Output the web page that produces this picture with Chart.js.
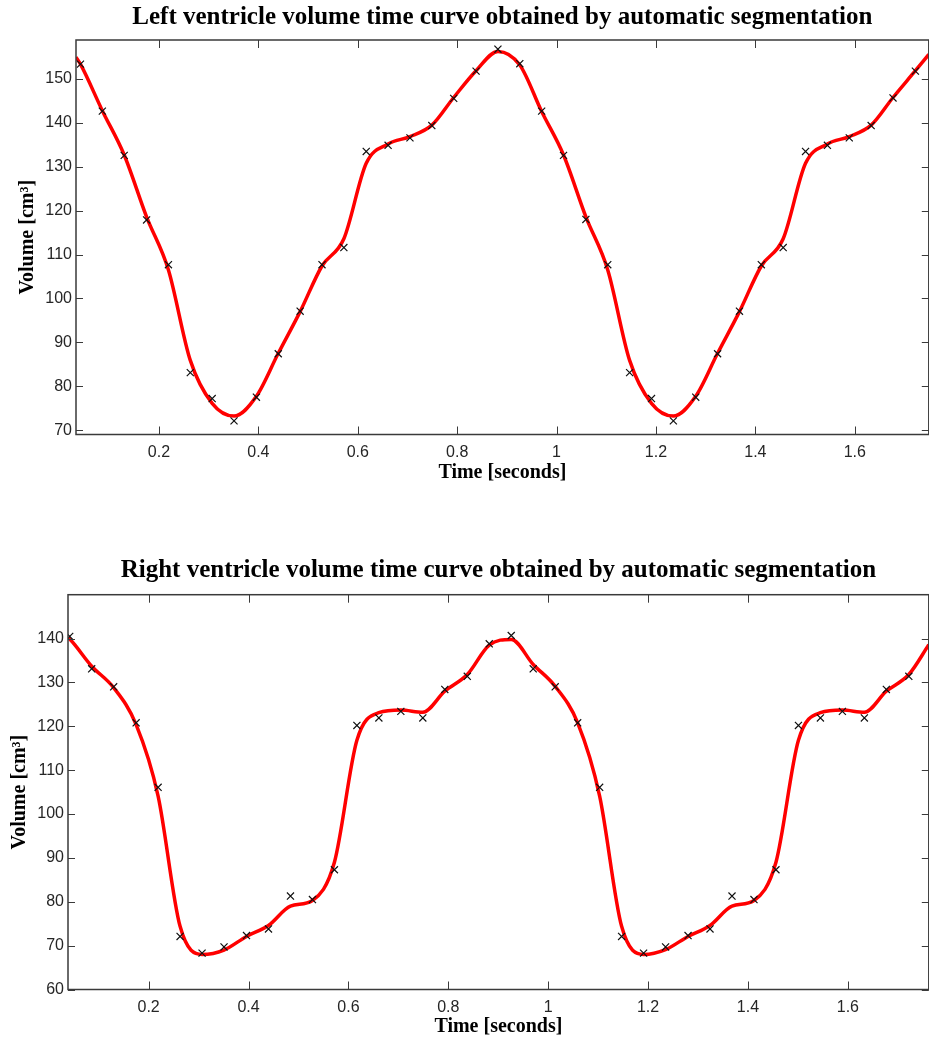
<!DOCTYPE html>
<html>
<head>
<meta charset="utf-8">
<script src="https://cdn.jsdelivr.net/npm/chart.js@4"></script>
<style>
    html, body { margin: 0; padding: 0; background: #fff; overflow: hidden; }
    .panel { position: absolute; left: 0; }
</style>
</head>
<body>
<div class="panel" style="top: 0px;"><canvas id="lvChart" width="935" height="490"></canvas></div>
<div class="panel" style="top: 550px;"><canvas id="rvChart" width="935" height="489"></canvas></div>
<script>
// frame times of the segmented volumes (seconds)
const timeSec = [
    0.042, 0.086, 0.130, 0.175, 0.219, 0.263, 0.307, 0.351, 0.396, 0.440,
    0.484, 0.528, 0.572, 0.617, 0.661, 0.705, 0.749, 0.793, 0.838, 0.882,
    0.926, 0.970, 1.014, 1.059, 1.103, 1.147, 1.191, 1.235, 1.280, 1.324,
    1.368, 1.412, 1.456, 1.501, 1.545, 1.589, 1.633, 1.677, 1.722,
];

// left ventricle: segmented volumes (x markers) and fitted curve (red)
const lvVolume = [
    153.4, 142.7, 132.6, 117.9, 107.7, 83.1, 77.2, 72.1, 77.5, 87.4,
    97.1, 107.7, 111.6, 133.5, 134.9, 136.6, 139.4, 145.6, 151.8, 156.8,
    153.5, 142.7, 132.6, 118.0, 107.7, 83.1, 77.2, 72.1, 77.5, 87.4,
    97.1, 107.7, 111.6, 133.5, 134.9, 136.6, 139.4, 145.7, 151.8,
];
const lvCurveTime = [0.033, ...timeSec, 1.749];
const lvCurve = [
    155.0,
    153.4, 142.8, 132.7, 118.6, 106.5, 85.9, 76.1, 73.2, 77.7, 87.5,
    97.0, 107.4, 113.6, 130.8, 135.2, 136.9, 139.5, 145.8, 151.9, 156.3,
    153.2, 142.6, 132.7, 118.6, 106.5, 85.9, 76.1, 73.2, 77.7, 87.5,
    97.0, 107.4, 113.6, 130.8, 135.2, 136.9, 139.5, 145.8, 151.9,
    155.6,
];

// right ventricle
const rvVolume = [
    140.5, 133.1, 129.0, 120.8, 106.1, 72.1, 68.3, 69.7, 72.3, 73.8,
    81.3, 80.5, 87.3, 120.2, 121.9, 123.4, 121.9, 128.4, 131.4, 138.8,
    140.7, 133.1, 129.0, 120.8, 106.1, 72.1, 68.3, 69.7, 72.3, 73.8,
    81.3, 80.5, 87.3, 120.2, 121.9, 123.4, 121.9, 128.4, 131.4,
];
const rvCurveTime = [0.0386, ...timeSec, 1.762];
const rvCurve = [
    140.2,
    139.9, 133.7, 128.8, 120.4, 104.1, 74.4, 68.0, 69.0, 72.1, 74.6,
    79.0, 80.3, 89.0, 116.8, 123.1, 123.7, 123.2, 128.0, 131.8, 138.5,
    139.8, 134.1, 129.1, 120.8, 104.1, 74.4, 68.0, 69.1, 72.1, 74.6,
    79.0, 80.3, 89.0, 116.8, 123.1, 123.7, 123.2, 128.0, 131.8,
    138.6,
];

const xTicks = [0.2, 0.4, 0.6, 0.8, 1, 1.2, 1.4, 1.6];
const lvYTicks = [70, 80, 90, 100, 110, 120, 130, 140, 150];
const rvYTicks = [60, 70, 80, 90, 100, 110, 120, 130, 140];

const serif = '"Liberation Serif", "Times New Roman", serif';
const sans = '"Liberation Sans", Arial, sans-serif';

// box around the plot with inward tick marks on all four sides
const matlabFrame = {
    id: "matlabFrame",
    afterDraw(chart) {
        const { ctx, chartArea: a, scales } = chart;
        ctx.save();
        ctx.strokeStyle = "#3a3a3a";
        ctx.lineWidth = 1;
        ctx.beginPath();
        scales.x.ticks.forEach((t) => {
            const px = Math.round(scales.x.getPixelForValue(t.value)) + 0.5;
            ctx.moveTo(px, a.bottom);
            ctx.lineTo(px, a.bottom - 8);
            ctx.moveTo(px, a.top);
            ctx.lineTo(px, a.top + 8);
        });
        scales.y.ticks.forEach((t) => {
            const py = Math.round(scales.y.getPixelForValue(t.value)) + 0.5;
            ctx.moveTo(a.left, py);
            ctx.lineTo(a.left + 7, py);
            ctx.moveTo(a.right, py);
            ctx.lineTo(a.right - 7, py);
        });
        ctx.stroke();
        ctx.lineWidth = 1.5;
        ctx.strokeRect(a.left, a.top, a.right - a.left, a.bottom - a.top);
        ctx.restore();
    },
};

const zip = (xs, ys) => ys.map((y, i) => ({ x: xs[i], y: y }));

function volumeChart(id, cfg) {
    return new Chart(document.getElementById(id), {
        type: "scatter",
        data: {
            datasets: [
                {
                    label: "Segmented volume",
                    data: zip(timeSec, cfg.markers),
                    pointStyle: "crossRot",
                    pointRadius: 5,
                    pointBorderColor: "#111",
                    pointBorderWidth: 1.2,
                    order: 0,
                },
                {
                    label: "Volume curve",
                    data: zip(cfg.curveTime, cfg.curve),
                    showLine: true,
                    borderColor: "#ff0000",
                    borderWidth: 3.5,
                    pointRadius: 0,
                    cubicInterpolationMode: "monotone",
                    order: 1,
                },
            ],
        },
        options: {
            responsive: false,
            animation: false,
            layout: { padding: { top: 0, left: 0, bottom: 0, right: cfg.padRight } },
            plugins: {
                legend: { display: false },
                tooltip: { enabled: false },
                title: {
                    display: true,
                    text: cfg.title,
                    fullSize: false,
                    color: "#000",
                    font: { family: serif, size: 25, weight: "bold" },
                    padding: cfg.titlePad,
                },
            },
            scales: {
                x: {
                    type: "linear",
                    min: cfg.xMin,
                    max: cfg.xMax,
                    grid: { display: false, drawTicks: false },
                    border: { display: false },
                    ticks: {
                        padding: 8, color: "#262626", font: { family: sans, size: 16 },
                        autoSkip: false, maxRotation: 0,
                        callback: (v) => String(v),
                    },
                    afterBuildTicks: (s) => { s.ticks = xTicks.map((v) => ({ value: v })); },
                    afterFit: (s) => { s.height = cfg.xAxisHeight; },
                    title: {
                        display: true,
                        text: "Time [seconds]",
                        color: "#000",
                        font: { family: serif, size: 20, weight: "bold" },
                        padding: { top: 0, bottom: cfg.xTitlePad },
                    },
                },
                y: {
                    type: "linear",
                    min: cfg.yMin,
                    max: cfg.yMax,
                    grid: { display: false, drawTicks: false },
                    border: { display: false },
                    ticks: { padding: 4, color: "#262626", font: { family: sans, size: 16 } },
                    afterBuildTicks: (s) => { s.ticks = cfg.yTicks.map((v) => ({ value: v })); },
                    afterFit: (s) => { s.width = cfg.yAxisWidth; },
                    title: {
                        display: true,
                        text: "Volume [cm³]",
                        color: "#000",
                        font: { family: serif, size: 20, weight: "bold" },
                        padding: { top: cfg.yTitlePad, bottom: 0 },
                    },
                },
            },
        },
        plugins: [matlabFrame],
    });
}

volumeChart("lvChart", {
    title: "Left ventricle volume time curve obtained by automatic segmentation",
    markers: lvVolume,
    curveTime: lvCurveTime,
    curve: lvCurve,
    xMin: 0.033, xMax: 1.749,
    yMin: 69, yMax: 158.9,
    yTicks: lvYTicks,
    padRight: 3,
    titlePad: { top: 2.5, bottom: 7.5 },
    xAxisHeight: 55.5,
    xTitlePad: 5.5,
    yAxisWidth: 76,
    yTitlePad: 15.5,
});

volumeChart("rvChart", {
    title: "Right ventricle volume time curve obtained by automatic segmentation",
    markers: rvVolume,
    curveTime: rvCurveTime,
    curve: rvCurve,
    xMin: 0.0386, xMax: 1.762,
    yMin: 60, yMax: 150,
    yTicks: rvYTicks,
    padRight: 5,
    titlePad: { top: 5.8, bottom: 8.9 },
    xAxisHeight: 49.5,
    xTitlePad: 0,
    yAxisWidth: 68,
    yTitlePad: 8,
});
</script>
</body>
</html>
